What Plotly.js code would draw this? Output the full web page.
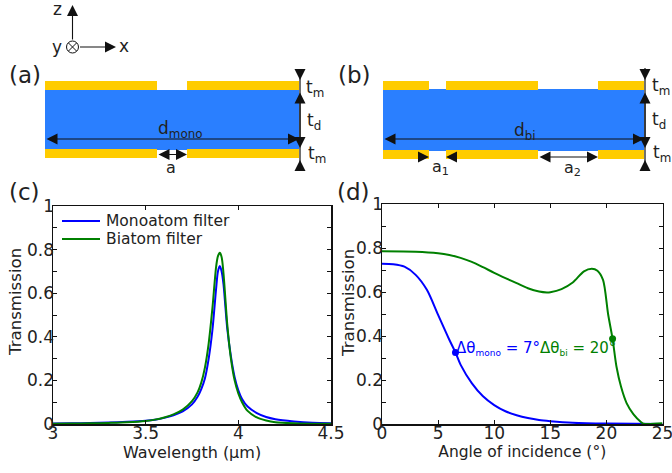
<!DOCTYPE html>
<html><head><meta charset="utf-8">
<script src="https://cdn.plot.ly/plotly-3.0.1.min.js"></script>
<style>html,body{margin:0;padding:0;background:#fff}</style></head>
<body><div id="chart" style="width:672px;height:473px"></div>
<script>
// Panel (c) data
const wavelength = [3,3.1,3.2,3.3,3.4,3.5,3.55,3.6,3.65,3.7,3.75,3.78,3.8,3.82,3.84,3.86,3.88,3.89,3.9,3.91,3.92,3.94,3.96,3.98,4,4.02,4.05,4.1,4.15,4.2,4.3,4.4,4.5];
const monoSpectrum = [.002,.003,.005,.007,.010,.015,.02,.028,.04,.058,.09,.125,.16,.21,.30,.43,.62,.70,.725,.70,.64,.44,.31,.215,.155,.115,.08,.05,.032,.022,.012,.006,.004];
const biSpectrum = [.001,.002,.003,.005,.008,.014,.02,.03,.044,.066,.105,.145,.19,.26,.37,.53,.72,.77,.785,.765,.69,.46,.30,.20,.14,.10,.06,.03,.016,.008,.003,.001,.001];
// Panel (d) data
const angleMono = [0,1,2,3,4,5,6,6.55,7,8,9,10,11,12,13,14,15,17,20,25];
const monoAngular = [.728,.726,.715,.678,.61,.496,.383,.325,.27,.186,.126,.086,.058,.040,.027,.018,.013,.006,.002,0];
const angleBi = [0,3,5,6,7,8,9,10,11,12,13,14,14.7,15,16,17,18,18.7,19.2,19.7,20.15,20.55,20.9,21.3,21.8,22.4,23.1,23.3,25];
const biAngular = [.785,.783,.776,.768,.755,.737,.713,.687,.663,.64,.617,.602,.598,.599,.613,.643,.694,.706,.697,.655,.50,.387,.26,.17,.095,.045,.008,.001,.003];
const halfAngleMono = [6.55], halfValueMono = [.325];
const halfAngleBi = [20.55], halfValueBi = [.387];
// Axis ticks
const yTickVals = [0,.1,.2,.3,.4,.5,.6,.7,.8,.9,1];
const yTickText = ['0','','0.2','','0.4','','0.6','','0.8','','1'];
const xTickC = [3,3.5,4,4.5], xTickCText = ['3','3.5','4','4.5'];
const xTickD = [0,5,10,15,20,25], xTickDText = ['0','5','10','15','20','25'];
// Names
const seriesNames = ['Monoatom filter','Biatom filter'];
const yTitle = 'Transmission';

const W = 672, H = 473, BLUE = '#0000ff', GREEN = '#008000', GOLD = '#FFCC00', SLAB = '#2A7FFF', INK = '#222';
const FONT = '"DejaVu Sans", sans-serif';
const px = x => x / W, py = y => 1 - y / H;

// Schematic rectangles: [x0, y0, x1, y1] in page pixels
const goldRects = [[45,81,157,90],[187,81,299,90],[45,149,157,158],[187,149,299,158],
  [383,81,429,90],[446,81,538,90],[598,81,644,90],[383,150,429,159],[446,150,538,159],[598,150,644,159]];
const slabRects = [[45,90,299,150],[383,89,644,151]];
const rect = (r, c) => ({type:'rect', xref:'paper', yref:'paper', x0:px(r[0]), x1:px(r[2]), y0:py(r[1]), y1:py(r[3]), fillcolor:c, line:{width:0}, layer:'below'});
const seg = (x0,y0,x1,y1,w,c) => ({type:'line', xref:'paper', yref:'paper', x0:px(x0), x1:px(x1), y0:py(y0), y1:py(y1), line:{color:c||'#111', width:w||1}});
const shapes = [...slabRects.map(r => rect(r, SLAB)), ...goldRects.map(r => rect(r, GOLD)),
  {type:'circle', xref:'paper', yref:'paper', x0:px(66.5), x1:px(78.5), y0:py(41), y1:py(53), line:{color:'#111', width:1}},
  seg(68.5,43,76.5,51), seg(68.5,51,76.5,43),
  seg(300,70,300,169,1.2), seg(645,68,645,169,1.2),
  seg(62,221,100,221,2,BLUE), seg(62,239,100,239,2,GREEN)];

// Arrows: [tailX, tailY, tipX, tipY, bothEnds]
const arrows = [[72.5,41,72.5,5],[78.5,47,116,47],
  [45,139,299,139,1],[157,154.5,187,154.5,1],[383,139,644,139,1],[538,157,598,157,1],
  [419,157,429,157],[457,157,446,157],
  [300,70,300,80],[300,91,300,148,1],[300,169,300,160],
  [645,68,645,80],[645,91,645,148,1],[645,169,645,160]];
const arrowAnn = a => ({xref:'paper', yref:'paper', axref:'paper', ayref:'paper', x:px(a[2]), y:py(a[3]), ax:px(a[0]), ay:py(a[1]), text:'', showarrow:true, arrowhead:2, startarrowhead:2, arrowside:a[4]?'end+start':'end', arrowsize:2, startarrowsize:2, arrowwidth:1.1, arrowcolor:'#111', standoff:0, startstandoff:0});

// Text: [string, x, y, size, colour, angle, anchor]
const smallSub = s => '<sub><span style="font-size:9px">' + s + '</span></sub>';
const labels = [['(a)',25,75,23],['(b)',354,75,23],['(c)',24,192,23],['(d)',353,192,23],
  ['z',57,9,17],['x',124,46,17],['y',57,47,17],
  ['d<sub>mono</sub>',180,129,17],['a',171,167,16],['d<sub>bi</sub>',525,131,17],
  ['a<sub>1</sub>',440,167,16],['a<sub>2</sub>',572,168,16],
  ['t<sub>m</sub>',315,88,17],['t<sub>d</sub>',314,121,17],['t<sub>m</sub>',317,155,17],
  ['t<sub>m</sub>',661,87,17],['t<sub>d</sub>',659,120,17],['t<sub>m</sub>',662,153,17],
  ['Δθ'+smallSub('mono')+' = 7°',497.5,348,15,BLUE],['Δθ'+smallSub('bi')+' = 20°',577.5,348,15,GREEN],
  [seriesNames[0],104,221,15.5,INK,0,'left'],[seriesNames[1],104,239,15.5,INK,0,'left'],
  [yTitle,15,302,16.6,INK,-90],[yTitle,348,303,16.6,INK,-90]];
const textAnn = t => ({xref:'paper', yref:'paper', x:px(t[1]), y:py(t[2]), text:t[0], showarrow:false, textangle:t[5]||0, xanchor:t[6]||'center', yanchor:'middle', xshift:0, font:{family:FONT, size:t[3], color:t[4]||INK}});

const axisBase = {showgrid:false, zeroline:false, showline:true, linecolor:'#111', linewidth:1.5, mirror:'allticks', ticks:'inside', ticklen:4, tickwidth:1, tickcolor:'#111', tickfont:{family:FONT, size:17, color:INK}, automargin:false, ticklabeloverflow:'allow'};
const yAxis = (domain, anchor) => ({...axisBase, domain, anchor, range:[0,1], tickmode:'array', tickvals:yTickVals, ticktext:yTickText, ticklabelstandoff:-6});
const xAxis = (domain, anchor, range, vals, text, title, size) => ({...axisBase, domain, anchor, range, tickmode:'array', tickvals:vals, ticktext:text, ticklabelstandoff:-7, title:{text:title, font:{family:FONT, size, color:INK}, standoff:3}});

const line = c => ({color:c, width:2, shape:'spline', smoothing:0.8});
const traces = [
  {x:wavelength, y:monoSpectrum, mode:'lines', name:seriesNames[0], line:line(BLUE), xaxis:'x', yaxis:'y'},
  {x:wavelength, y:biSpectrum, mode:'lines', name:seriesNames[1], line:line(GREEN), xaxis:'x', yaxis:'y'},
  {x:angleMono, y:monoAngular, mode:'lines', line:line(BLUE), xaxis:'x2', yaxis:'y2'},
  {x:angleBi, y:biAngular, mode:'lines', line:line(GREEN), xaxis:'x2', yaxis:'y2'},
  {x:halfAngleMono, y:halfValueMono, mode:'markers', marker:{color:BLUE, size:7}, xaxis:'x2', yaxis:'y2'},
  {x:halfAngleBi, y:halfValueBi, mode:'markers', marker:{color:GREEN, size:7}, xaxis:'x2', yaxis:'y2'}
];
const layout = {
  width:W, height:H, margin:{l:0,r:0,t:0,b:0}, paper_bgcolor:'#fff', plot_bgcolor:'rgba(0,0,0,0)',
  font:{family:FONT, color:INK},
  xaxis:xAxis([px(53),px(331)],'y',[3,4.5],xTickC,xTickCText,'Wavelength (µm)',16),
  yaxis:yAxis([py(424),py(206)],'x'),
  xaxis2:xAxis([px(382),px(662.5)],'y2',[0,25],xTickD,xTickDText,'Angle of incidence (°)',15.5),
  yaxis2:yAxis([py(424),py(204)],'x2'),
  showlegend:false,
  shapes,
  annotations:[...arrows.map(arrowAnn), ...labels.map(textAnn)]
};
Plotly.newPlot('chart', traces, layout, {displayModeBar:false, staticPlot:true});
</script></body></html>
